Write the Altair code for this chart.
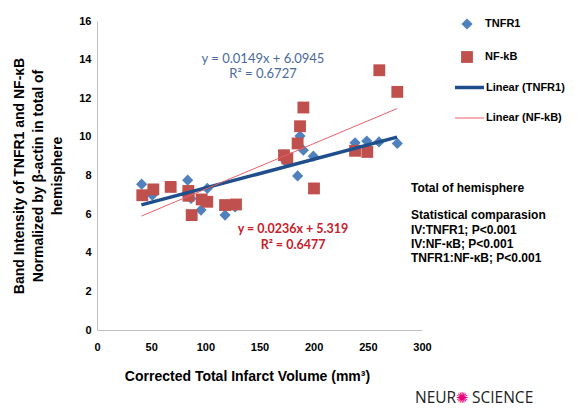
import altair as alt
import pandas as pd

# ---- data ----
tnfr1_x = [41.2, 51.0, 67.4, 83.7, 86.8, 101.8, 96.0, 118.2, 127.4, 174.5,
           185.2, 187.4, 190.5, 199.7, 238.2, 249.0, 260.3, 277.2]
tnfr1_y = [7.55, 6.98, 7.41, 7.76, 6.81, 7.33, 6.21, 5.95, 6.38, 8.71,
           7.98, 10.04, 9.31, 9.00, 9.69, 9.78, 9.74, 9.66]
nfkb_x = [41.8, 52.0, 68.0, 84.3, 84.5, 96.6, 101.8, 87.4, 118.2, 128.3,
          172.6, 175.7, 185.2, 187.4, 190.5, 200.3, 238.2, 249.5, 260.6, 277.2]
nfkb_y = [6.98, 7.28, 7.41, 7.20, 6.95, 6.76, 6.64, 5.95, 6.47, 6.50,
          9.05, 8.88, 9.66, 10.55, 11.52, 7.33, 9.28, 9.22, 13.45, 12.33]

series_names = ["TNFR1", "NF-kB"]
fit_names = ["Linear (TNFR1)", "Linear (NF-kB)"]
x_ticks = [0, 50, 100, 150, 200, 250, 300]
y_ticks = [0, 2, 4, 6, 8, 10, 12, 14, 16]

blue_eq = ["y = 0.0149x + 6.0945", "R\u00b2 = 0.6727"]
red_eq = ["y = 0.0236x + 5.319", "R\u00b2 = 0.6477"]
side_text = ["Total of hemisphere", "Statistical comparasion",
             "IV:TNFR1; P<0.001", "IV:NF-\u03baB;  P<0.001", "TNFR1:NF-\u03baB; P<0.001"]

BLUE = "#4F81BD"
RED = "#C0504D"
DARKBLUE = "#1F4E8C"
LIGHTRED = "#E8606A"
FONT = "Liberation Sans"

df = pd.concat([
    pd.DataFrame({"x": tnfr1_x, "y": tnfr1_y, "series": "TNFR1", "fit": "Linear (TNFR1)"}),
    pd.DataFrame({"x": nfkb_x, "y": nfkb_y, "series": "NF-kB", "fit": "Linear (NF-kB)"}),
], ignore_index=True)

xscale = alt.Scale(domain=[0, 300], nice=False)
yscale = alt.Scale(domain=[0, 16], nice=False)

xaxis = alt.Axis(values=x_ticks, grid=False, ticks=False, domainColor="#BFBFBF",
                 labelFont=FONT, labelFontWeight="bold", labelFontSize=11, labelColor="#000",
                 labelPadding=11, labelOverlap=False, labelFlush=False,
                 title="Corrected Total Infarct Volume (mm\u00b3)",
                 titleFont=FONT, titleFontSize=14, titleFontWeight="bold", titleColor="#000",
                 titlePadding=17, titleX=150, titleAlign="center", titleAnchor="start")
yaxis = alt.Axis(values=y_ticks, tickCount=9, grid=False, ticks=False, domainColor="#BFBFBF",
                 labelFont=FONT, labelFontWeight="bold", labelFontSize=11, labelColor="#000",
                 labelPadding=6, labelOverlap=False, labelFlush=False, labelBound=False,
                 title=["Band Intensity of TNFR1 and NF-\u03baB",
                        "Normalized by \u03b2-actin in total of", "hemisphere"],
                 titleFont=FONT, titleFontSize=14, titleFontWeight="bold", titleColor="#000",
                 titlePadding=14, titleLineHeight=19)

pt_legend = alt.Legend(title=None, orient="none", legendX=364, legendY=-3,
                       labelFont=FONT, labelFontWeight="bold", labelFontSize=11,
                       labelColor="#000", symbolSize=110, rowPadding=21, labelOffset=12,
                       padding=0, symbolStrokeWidth=0)
ln_legend = alt.Legend(title=None, orient="none", legendX=356, legendY=50,
                       labelFont=FONT, labelFontWeight="bold", labelFontSize=11,
                       labelColor="#000", symbolType="stroke", symbolSize=841,
                       rowPadding=8, labelOffset=0, padding=0)

points = alt.Chart(df).mark_point(filled=True, opacity=1, strokeWidth=0).encode(
    x=alt.X("x:Q", scale=xscale, axis=xaxis),
    y=alt.Y("y:Q", scale=yscale, axis=yaxis),
    color=alt.Color("series:N", scale=alt.Scale(domain=series_names, range=[BLUE, RED]),
                    legend=pt_legend),
    shape=alt.Shape("series:N", scale=alt.Scale(domain=series_names, range=["diamond", "square"]),
                    legend=pt_legend),
    size=alt.Size("series:N", scale=alt.Scale(domain=series_names, range=[125, 140]), legend=None),
    order=alt.Order("series:N", sort="descending"),
)

lines = alt.Chart(df).transform_regression(
    "x", "y", groupby=["fit"], extent=[41, 277]
).mark_line().encode(
    x=alt.X("x:Q", scale=xscale, axis=xaxis),
    y=alt.Y("y:Q", scale=yscale, axis=yaxis),
    stroke=alt.Stroke("fit:N", scale=alt.Scale(domain=fit_names, range=[DARKBLUE, LIGHTRED]),
                      legend=ln_legend),
    strokeWidth=alt.StrokeWidth("fit:N", scale=alt.Scale(domain=fit_names, range=[3.5, 1]),
                                legend=ln_legend),
    order=alt.Order("fit:N", sort="descending"),
)

def txt(s, px, py, color, size, weight="normal", align="center", font=FONT):
    return alt.Chart(pd.DataFrame({"t": [s]})).mark_text(
        align=align, baseline="middle", color=color, fontSize=size,
        fontWeight=weight, font=font
    ).encode(text="t:N", x=alt.value(px), y=alt.value(py))

ann = [
    txt(blue_eq[0], 166, 38, "#4A6A9E", 13, font="Lato"),
    txt(blue_eq[1], 166, 53, "#4A6A9E", 13, font="Lato"),
    txt(red_eq[0], 196, 208, "#C8202A", 12.5, "bold", font="Lato"),
    txt(red_eq[1], 196, 224, "#C8202A", 12.5, "bold", font="Lato"),
    txt(side_text[0], 314, 167, "#000", 12, "bold", "left"),
    txt(side_text[1], 314, 194, "#000", 12, "bold", "left"),
    txt(side_text[2], 314, 209, "#000", 12, "bold", "left"),
    txt(side_text[3], 314, 223, "#000", 12, "bold", "left"),
    txt(side_text[4], 314, 237, "#000", 12, "bold", "left"),
    txt("NEUR", 318, 377, "#222", 15.5, "normal", "left", "Open Sans"),
    txt("\u273a", 365, 377, "#E6007E", 15, "normal", "center", "DejaVu Sans"),
    txt("SCIENCE", 375, 377, "#222", 15.5, "normal", "left", "Open Sans"),
]

chart = alt.layer(points, lines, *ann).properties(
    width=325, height=309,
    autosize=alt.AutoSizeParams(type="none"),
    padding={"left": 89, "top": 13, "right": 148, "bottom": 78},
    background="white",
).configure_view(stroke=None)

chart.save("out.html", embed_options={"renderer": "svg", "actions": False})
